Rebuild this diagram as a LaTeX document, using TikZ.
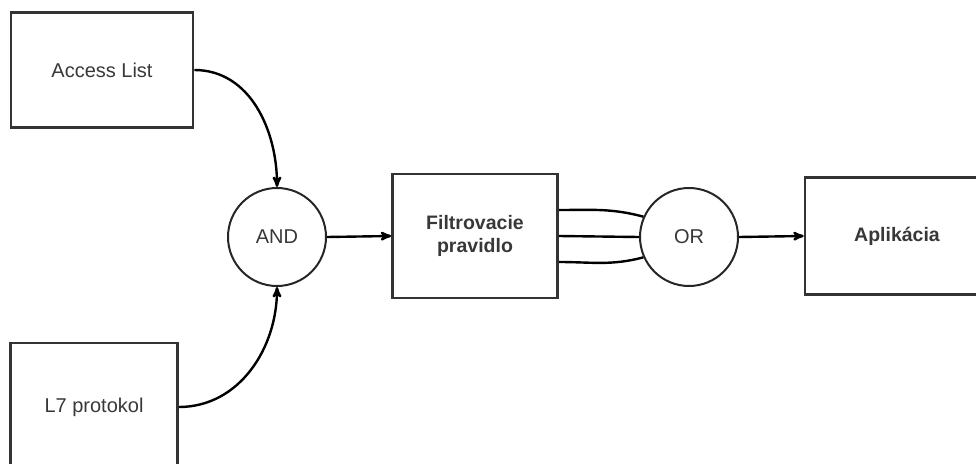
\documentclass[tikz,border=0pt]{standalone}
\usepackage{fontspec}
\setmainfont{Liberation Sans}
\usetikzlibrary{arrows, shapes, positioning}

\begin{document}
\begin{tikzpicture}[x=1pt,y=-1pt,>=stealth',line width=2.4pt,
  box node/.style={rectangle,draw=black!80,line width=2.6pt,text=black!78,font=\fontsize{20}{24}\selectfont,align=center,inner sep=0pt},
  gate node/.style={circle,draw=black!85,line width=2pt,text=black!78,font=\fontsize{20}{24}\selectfont,minimum size=98pt,inner sep=0pt}]
  \clip (0,0) rectangle (976,463);
  \node[box node,minimum width=182pt,minimum height=115pt] (acl) at (102,70) {Access List};
  \node[box node,minimum width=167pt,minimum height=128pt] (l7) at (94,407) {L7 protokol};
  \node[gate node] (and) at (277,237) {AND};
  \node[box node,minimum width=165pt,minimum height=124pt,font=\fontsize{19.5}{23}\selectfont\bfseries] (filter) at (475,236) {Filtrovacie\\pravidlo};
  \node[gate node] (or) at (689,237) {OR};
  \node[box node,minimum width=184pt,minimum height=117pt,font=\fontsize{19.5}{23}\selectfont\bfseries] (app) at (897,236) {Aplikácia};
  % inputs into AND
  \draw[->] (acl.east) to[out=0,in=90] (and.north);
  \draw[->] (l7.east) to[out=0,in=-90] (and.south);
  \draw[->] (and.east) -- (filter.west);
  % three rules into OR
  \draw ([yshift=26pt]filter.east) to[out=0,in=165] (or.156);
  \draw (filter.east) -- (or.west);
  \draw ([yshift=-26pt]filter.east) to[out=0,in=195] (or.204);
  \draw[->] (or.east) -- (app.west);
\end{tikzpicture}
\end{document}
